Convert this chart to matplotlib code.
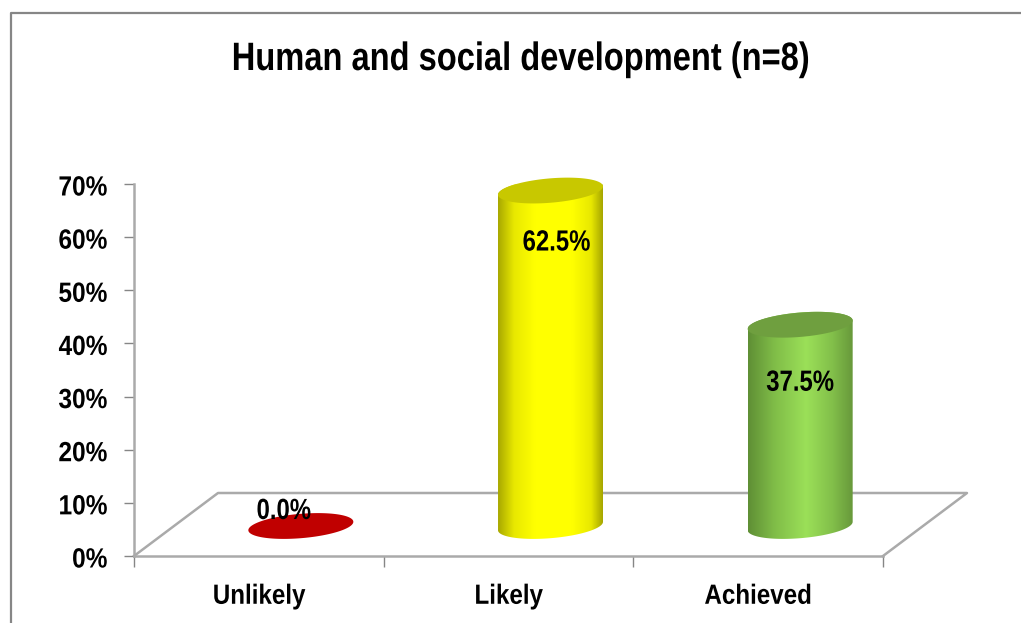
import numpy as np
import matplotlib
matplotlib.use('Agg')
from matplotlib import pyplot as plt
from matplotlib.colors import LinearSegmentedColormap
from matplotlib.lines import Line2D
from matplotlib.patches import Polygon
from matplotlib.patheffects import AbstractPathEffect
from matplotlib.transforms import Affine2D, ScaledTranslation

# Chart values
categories = ['Unlikely', 'Likely', 'Achieved']
values = [0.0, 62.5, 37.5]
value_labels = ['0.0%', '62.5%', '37.5%']
y_ticks = [0, 10, 20, 30, 40, 50, 60, 70]
chart_title = 'Human and social development (n=8)'

# Colours per bar: side gradient (position, colour) and top cap
side_colors = [
    [(0, '#c00000'), (1, '#c00000')],
    [(0, '#a8a800'), (0.15, '#e8e800'), (0.35, '#ffff00'), (0.7, '#ffff00'), (0.88, '#e8e800'), (1, '#a0a000')],
    [(0, '#5f8f35'), (0.25, '#80bd48'), (0.55, '#9be058'), (0.8, '#82bf4a'), (1, '#66963a')],
]
cap_colors = ['#c00000', '#c8c800', '#6f9f3f']
label_offsets = [(-17, 15), (6, -52), (0, -58)]

plt.rcParams['font.family'] = ['Liberation Sans']
plt.rcParams['font.weight'] = 'bold'


# the original uses a narrow font, so squeeze the glyphs sideways
class Narrow(AbstractPathEffect):
    def __init__(self, sx, anchor='center'):
        super().__init__()
        self.sx = sx
        self.anchor = anchor

    def draw_path(self, renderer, gc, tpath, affine, rgbFace=None):
        ext = tpath.get_extents()
        x0 = ext.x1 if self.anchor == 'right' else (ext.x0 + ext.x1) / 2
        squeeze = Affine2D().translate(-x0, 0).scale(self.sx, 1).translate(x0, 0)
        renderer.draw_path(gc, tpath, squeeze + affine, rgbFace)


W, H = 1021, 623
fig = plt.figure(figsize=(W / 100, H / 100), dpi=100)

# plot box in pixels
left, right, top, bottom = 134, 883, 184, 556
ax = fig.add_axes([left / W, 1 - bottom / H, (right - left) / W, (bottom - top) / H])
ax.set_facecolor('none')

px_x = (right - left) / len(categories)
px_y = (bottom - top) / max(y_ticks)

# outer chart border (runs off the right and bottom of the picture)
fig.add_artist(Line2D([11 / W, 11 / W, 1], [0, 1 - 13 / H, 1 - 13 / H], color='#868686', lw=1.6))

# floor of the 3D box
floor_dx = 84 / px_x
floor_dy = 63 / px_y
n = len(categories)
ax.plot([0, floor_dx, n + floor_dx, n], [0, floor_dy, floor_dy, 0],
        color='#aaaaaa', lw=1.8, zorder=1, clip_on=False)

# cylinders
half_w = 52.5 / px_x
semi_b = 12.2 / px_y
skew = 4.2 / px_y
base_y = 30 / px_y
height_scale = 1.01
t = np.linspace(0, 2 * np.pi, 181)

for i, v in enumerate(values):
    cx = i + 0.5 + floor_dx / 2
    ex = cx + half_w * np.cos(t)
    ey = semi_b * np.sin(t) + skew * np.cos(t)
    top_y = base_y + v * height_scale

    if v > 0:
        low = t > np.pi
        up = t <= np.pi
        body_x = np.r_[ex[low], ex[up]]
        body_y = np.r_[base_y + ey[low], top_y + ey[up]]
        cmap = LinearSegmentedColormap.from_list('side', side_colors[i])
        img = ax.imshow(np.linspace(0, 1, 256)[None, :], cmap=cmap, aspect='auto',
                        extent=[cx - half_w, cx + half_w, base_y - 5, top_y + 5],
                        zorder=2, clip_on=True)
        img.set_clip_path(Polygon(np.c_[body_x, body_y], transform=ax.transData))

    ax.fill(ex, top_y + ey, color=cap_colors[i], lw=0, zorder=3, clip_on=False)
    ann = ax.annotate(value_labels[i], (cx, top_y),
                      xytext=(label_offsets[i][0] * 0.72, label_offsets[i][1] * 0.72),
                      textcoords='offset points', ha='center', va='center', fontsize=21,
                      fontweight='bold', color='black', zorder=5)
    ann.set_path_effects([Narrow(0.82)])

ax.set_xlim(0, n)
ax.set_ylim(0, max(y_ticks))

# axes
for side in ['top', 'right']:
    ax.spines[side].set_visible(False)
for side in ['left', 'bottom']:
    ax.spines[side].set_color('#aaaaaa')
    ax.spines[side].set_linewidth(1.8)

ax.set_yticks(y_ticks)
ax.set_yticklabels([f'{v}%' for v in y_ticks], fontsize=20, fontweight='bold')
ax.tick_params(axis='y', length=7, width=1, color='#868686', pad=12)
for lab in ax.get_yticklabels():
    lab.set_path_effects([Narrow(0.88, 'right')])
    lab.set_transform(lab.get_transform() + ScaledTranslation(0, -1.5 / 100, fig.dpi_scale_trans))

ax.set_xticks(range(n + 1))
ax.set_xticklabels([])
ax.set_xticks(np.arange(n) + 0.5, minor=True)
ax.set_xticklabels(categories, minor=True, fontsize=20, fontweight='bold')
ax.tick_params(axis='x', which='major', length=8, width=1, color='#868686')
ax.tick_params(axis='x', which='minor', length=0, pad=20)
for lab in ax.get_xticklabels(minor=True):
    lab.set_path_effects([Narrow(0.87)])

title = fig.text(521 / W, 1 - 70 / H, chart_title, ha='center', va='baseline', fontsize=28.5, fontweight='bold')
title.set_path_effects([Narrow(0.825)])

plt.savefig('out.png', dpi=100)
